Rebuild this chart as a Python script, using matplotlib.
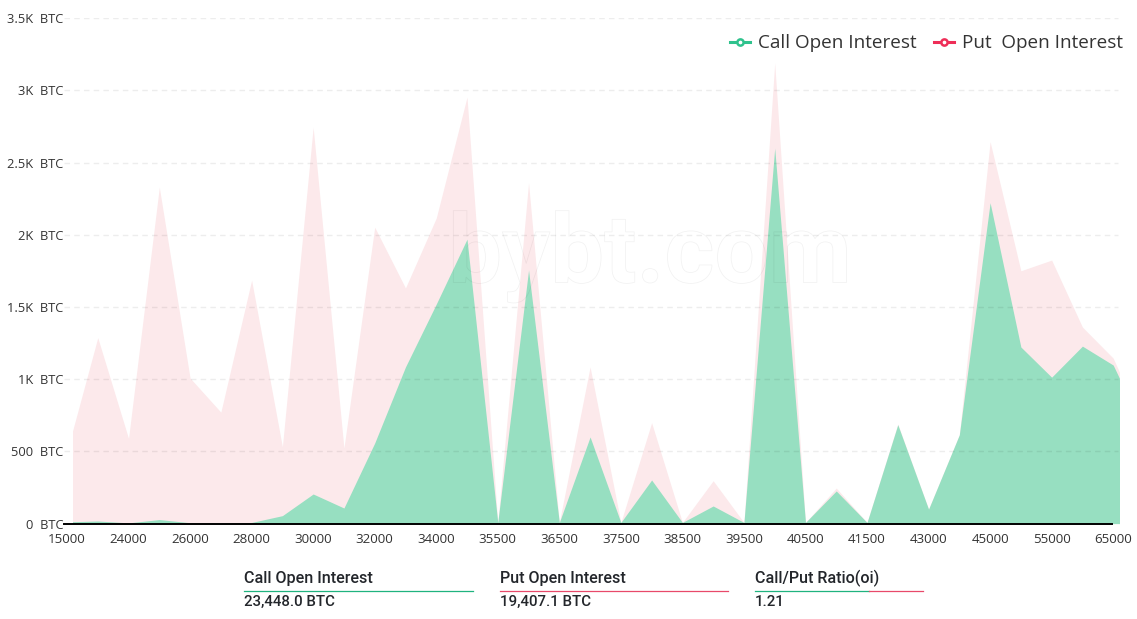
import matplotlib
matplotlib.use('Agg')
import matplotlib.pyplot as plt
import matplotlib.patheffects as pe
from matplotlib.lines import Line2D
from matplotlib.patches import Rectangle
import numpy as np

# strikes, the axis shows every second one
strikes = [15000, 22000, 24000, 25000, 26000, 27000, 28000, 29000, 30000, 31000, 32000, 33000,
           34000, 35000, 35500, 36000, 36500, 37000, 37500, 38000, 38500, 39000, 39500, 40000,
           40500, 41000, 41500, 42000, 43000, 44000, 45000, 50000, 55000, 60000, 65000, 70000]
put_oi = [500, 1288, 590, 2330, 1008, 772, 1686, 532, 2745, 523, 2053, 1632,
          2116, 2954, 8, 2360, 8, 1085, 8, 699, 8, 297, 8, 3190,
          8, 246, 8, 690, 100, 615, 2645, 1751, 1825, 1361, 1146, 670]
call_oi = [12, 18, 5, 28, 6, 2, 8, 55, 205, 108, 558, 1085,
           1520, 1970, 8, 1756, 8, 600, 8, 302, 8, 122, 8, 2600,
           8, 226, 8, 685, 100, 615, 2222, 1223, 1014, 1229, 1098, 650]
y_ticks = [0, 500, 1000, 1500, 2000, 2500, 3000, 3500]
y_labels = ['0  BTC', '500  BTC', '1K  BTC', '1.5K  BTC', '2K  BTC', '2.5K  BTC', '3K  BTC', '3.5K  BTC']

W, H = 1137, 619
FONT = 'Open Sans'
STAT = 'Roboto'
CALL = '#2fc28d'
PUT = '#ee2e58'
TEXT = '#333333'

# pixel helpers
def fx(px):
    return px / W

def fy(py):
    return 1 - py / H

def stat_block(x0, title, value):
    fig.text(fx(x0), fy(578), title, fontsize=11.6, fontweight='medium', family=STAT, color='#23262b', va='center')
    fig.text(fx(x0), fy(602), value, fontsize=10.8, fontweight='medium', family=STAT, color='#23262b', va='center')

fig = plt.figure(figsize=(W / 100, H / 100), dpi=100)
left, right, top, bottom = 63.5, 1119, 18.2, 523.6
ax = fig.add_axes([fx(left), fy(bottom), fx(right - left), (bottom - top) / H])

x = np.arange(len(strikes))
step = 30.77
x_left = (left - 67) / step
x_right = (right - 67) / step
ax.set_xlim(x_left, x_right)
ax.set_ylim(0, 3500)

clip = Rectangle((73, 0), right - 73, H, transform=None)
put_area = ax.fill_between(x, put_oi, color='#fce9eb', lw=0, zorder=1)
call_area = ax.fill_between(x, call_oi, color='#97dfc1', lw=0, zorder=2)
put_area.set_clip_path(clip)
call_area.set_clip_path(clip)

ax.hlines(y_ticks[1:], x_left, (1117.7 - 67) / step, color=(0, 0, 0, 0.07), lw=1, linestyles=(0, (4, 3)), zorder=3)

for side in ['top', 'right', 'left']:
    ax.spines[side].set_visible(False)
ax.spines['bottom'].set_bounds(x_left, (1112 - 67) / step)
ax.spines['bottom'].set_linewidth(1.4)
ax.spines['bottom'].set_color('#000000')
ax.spines['bottom'].set_zorder(4)

ax.set_xticks(x[:35:2])
ax.set_xticklabels([str(s) for s in strikes[:35:2]], fontsize=9.6, family=FONT, color=TEXT)
ax.set_yticks(y_ticks)
ax.set_yticklabels(y_labels, fontsize=9.3, family=FONT, color=TEXT)
ax.tick_params(axis='both', length=0)
ax.tick_params(axis='x', pad=7)
ax.tick_params(axis='y', pad=0)

# faint watermark
wm = fig.text(fx(650), fy(257), 'bybt.com', fontsize=69, family=['Liberation Sans Narrow', 'Roboto'],
              fontweight='bold', ha='center', va='center', color=(1, 1, 1, 0))
wm.set_path_effects([pe.withStroke(linewidth=0.6, foreground=(0, 0, 0, 0.05))])

handles = [Line2D([], [], color=CALL, lw=2.2, marker='o', ms=4.5, mfc='white', mew=1.8),
           Line2D([], [], color=PUT, lw=2.2, marker='o', ms=4.5, mfc='white', mew=1.8)]
leg = fig.legend(handles, ['Call Open Interest', 'Put  Open Interest'], loc='center right',
                 bbox_to_anchor=(fx(1122.5), fy(43.5)), ncol=2, frameon=False,
                 prop={'family': FONT, 'size': 13.6}, labelcolor=TEXT, handlelength=1.06,
                 handletextpad=0.42, columnspacing=0.9, borderpad=0, borderaxespad=0)

# stat blocks under the chart
stat_block(244, 'Call Open Interest', '23,448.0 BTC')
stat_block(499.5, 'Put Open Interest', '19,407.1 BTC')
stat_block(755, 'Call/Put Ratio(oi)', '1.21')
for x0, x1, color in [(244, 473, '#1fb37f'), (499.5, 728, '#e8496a'), (755, 869, '#1fb37f'), (869, 923, '#e8496a')]:
    fig.add_artist(Line2D([fx(x0), fx(x1)], [fy(591), fy(591)], color=color, lw=0.9, snap=True))

fig.savefig('out.png', dpi=100)
